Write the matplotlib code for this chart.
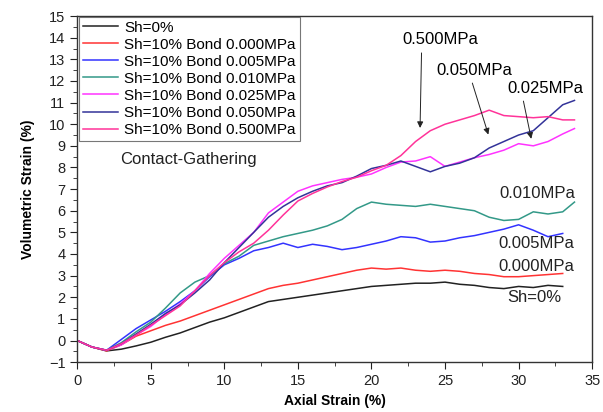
import matplotlib
matplotlib.use('Agg')
import matplotlib.pyplot as plt
from matplotlib.ticker import MultipleLocator

plt.rcParams['font.family'] = ['Liberation Sans', 'DejaVu Sans']

# axial strain (%) sample points
x_base = [0, 1, 2, 3, 4, 5, 6, 7, 8, 9, 10, 11, 12, 13, 14, 15, 16, 17, 18, 19,
          20, 21, 22, 23, 24, 25, 26, 27, 28, 29, 30, 31, 32, 33]

sh0 = [0, -0.3, -0.48, -0.4, -0.25, -0.08, 0.15, 0.35, 0.6, 0.85, 1.05, 1.3, 1.55, 1.8, 1.9, 2.0,
       2.1, 2.2, 2.3, 2.4, 2.5, 2.55, 2.6, 2.65, 2.65, 2.7, 2.6, 2.55, 2.45, 2.4, 2.5, 2.45, 2.55, 2.5]
b000 = [0, -0.3, -0.48, -0.2, 0.2, 0.45, 0.7, 0.9, 1.15, 1.4, 1.65, 1.9, 2.15, 2.4, 2.55, 2.65,
        2.8, 2.95, 3.1, 3.25, 3.35, 3.3, 3.35, 3.25, 3.2, 3.25, 3.2, 3.1, 3.05, 2.95, 2.95, 3.0, 3.05, 3.1]
b005 = [0, -0.3, -0.45, 0.05, 0.55, 0.95, 1.35, 1.8, 2.3, 2.95, 3.5, 3.8, 4.15, 4.3, 4.5, 4.3,
        4.45, 4.35, 4.2, 4.3, 4.45, 4.6, 4.8, 4.75, 4.55, 4.6, 4.75, 4.85, 5.0, 5.15, 5.35, 5.1, 4.8, 4.95]

x_long = x_base + [33.8]
b010 = [0, -0.3, -0.45, -0.1, 0.4, 0.85, 1.5, 2.2, 2.7, 3.0, 3.55, 3.9, 4.4, 4.6, 4.8, 4.95,
        5.1, 5.3, 5.6, 6.1, 6.4, 6.3, 6.25, 6.2, 6.3, 6.2, 6.1, 6.0, 5.7, 5.55, 5.6, 5.95, 5.85, 5.95, 6.4]
b025 = [0, -0.3, -0.45, -0.2, 0.25, 0.65, 1.2, 1.7, 2.3, 3.1, 3.8, 4.4, 5.0, 5.9, 6.4, 6.9,
        7.15, 7.3, 7.45, 7.55, 7.7, 8.0, 8.25, 8.3, 8.5, 8.05, 8.25, 8.45, 8.6, 8.8, 9.1, 9.0, 9.2, 9.55, 9.8]
b050 = [0, -0.3, -0.45, -0.15, 0.3, 0.75, 1.25, 1.65, 2.2, 2.8, 3.6, 4.3, 5.0, 5.7, 6.2, 6.6,
        6.9, 7.15, 7.3, 7.6, 7.95, 8.1, 8.3, 8.05, 7.8, 8.05, 8.2, 8.45, 8.9, 9.2, 9.5, 9.7, 10.3, 10.9, 11.1]
b500 = [0, -0.3, -0.45, -0.15, 0.25, 0.7, 1.15, 1.6, 2.3, 3.0, 3.6, 4.1, 4.5, 5.1, 5.8, 6.45,
        6.8, 7.1, 7.35, 7.55, 7.85, 8.1, 8.55, 9.2, 9.7, 10.0, 10.2, 10.4, 10.65, 10.4, 10.35, 10.3, 10.35, 10.2, 10.2]

fig = plt.figure(figsize=(6.03, 4.12), dpi=100)
ax = fig.add_axes([0.128, 0.121, 0.854, 0.840])

ax.plot(x_base, sh0, color='#222222', lw=1.1, label='Sh=0%')
ax.plot(x_base, b000, color='#ff3333', lw=1.1, label='Sh=10% Bond 0.000MPa')
ax.plot(x_base, b005, color='#3333ff', lw=1.1, label='Sh=10% Bond 0.005MPa')
ax.plot(x_long, b010, color='#339988', lw=1.1, label='Sh=10% Bond 0.010MPa')
ax.plot(x_long, b025, color='#ff33ff', lw=1.1, label='Sh=10% Bond 0.025MPa')
ax.plot(x_long, b050, color='#333399', lw=1.1, label='Sh=10% Bond 0.050MPa')
ax.plot(x_long, b500, color='#ff3399', lw=1.1, label='Sh=10% Bond 0.500MPa')

ax.set_xlim(0, 35)
ax.set_ylim(-1, 15)
ax.xaxis.set_major_locator(MultipleLocator(5))
ax.xaxis.set_minor_locator(MultipleLocator(2.5))
ax.yaxis.set_major_locator(MultipleLocator(1))
ax.yaxis.set_minor_locator(MultipleLocator(0.5))
ax.tick_params(which='major', direction='out', length=5, labelsize=10.5, colors='#222222')
ax.tick_params(which='minor', direction='out', length=3, colors='#222222')
for s in ax.spines.values():
    s.set_color('#333333')
    s.set_linewidth(1.0)

ax.set_xlabel('Axial Strain (%)', fontsize=10, fontweight='bold', labelpad=4)
ax.set_ylabel('Volumetric Strain (%)', fontsize=10, fontweight='bold', labelpad=10)

leg = ax.legend(loc='upper left', bbox_to_anchor=(0.004, 0.998), fontsize=11,
                frameon=True, fancybox=False, borderpad=0.25, labelspacing=0.2,
                handlelength=2.3, handletextpad=0.4, borderaxespad=0)
leg.get_frame().set_edgecolor('#555555')
leg.get_frame().set_linewidth(0.8)

ax.text(2.9, 8.35, 'Contact-Gathering', fontsize=12, va='center', ha='left', color='#222222')

arrow = dict(arrowstyle='-|>', color='#222222', lw=0.7, mutation_scale=9)
ax.annotate('0.500MPa', xy=(23.3, 9.7), xytext=(24.7, 13.9), fontsize=12, ha='center', va='center',
            arrowprops=dict(arrow, relpos=(0.25, 0)))
ax.annotate('0.050MPa', xy=(28.0, 9.4), xytext=(27.0, 12.5), fontsize=12, ha='center', va='center',
            arrowprops=dict(arrow, relpos=(0.45, 0)))
ax.annotate('0.025MPa', xy=(30.9, 9.2), xytext=(31.8, 11.67), fontsize=12, ha='center', va='center',
            arrowprops=dict(arrow, relpos=(0.2, 0)))

ax.text(31.3, 6.8, '0.010MPa', fontsize=12, ha='center', va='center', color='#222222')
ax.text(31.2, 4.5, '0.005MPa', fontsize=12, ha='center', va='center', color='#222222')
ax.text(31.2, 3.4, '0.000MPa', fontsize=12, ha='center', va='center', color='#222222')
ax.text(31.1, 2.0, 'Sh=0%', fontsize=12, ha='center', va='center', color='#222222')

fig.savefig('out.png', dpi=100)
